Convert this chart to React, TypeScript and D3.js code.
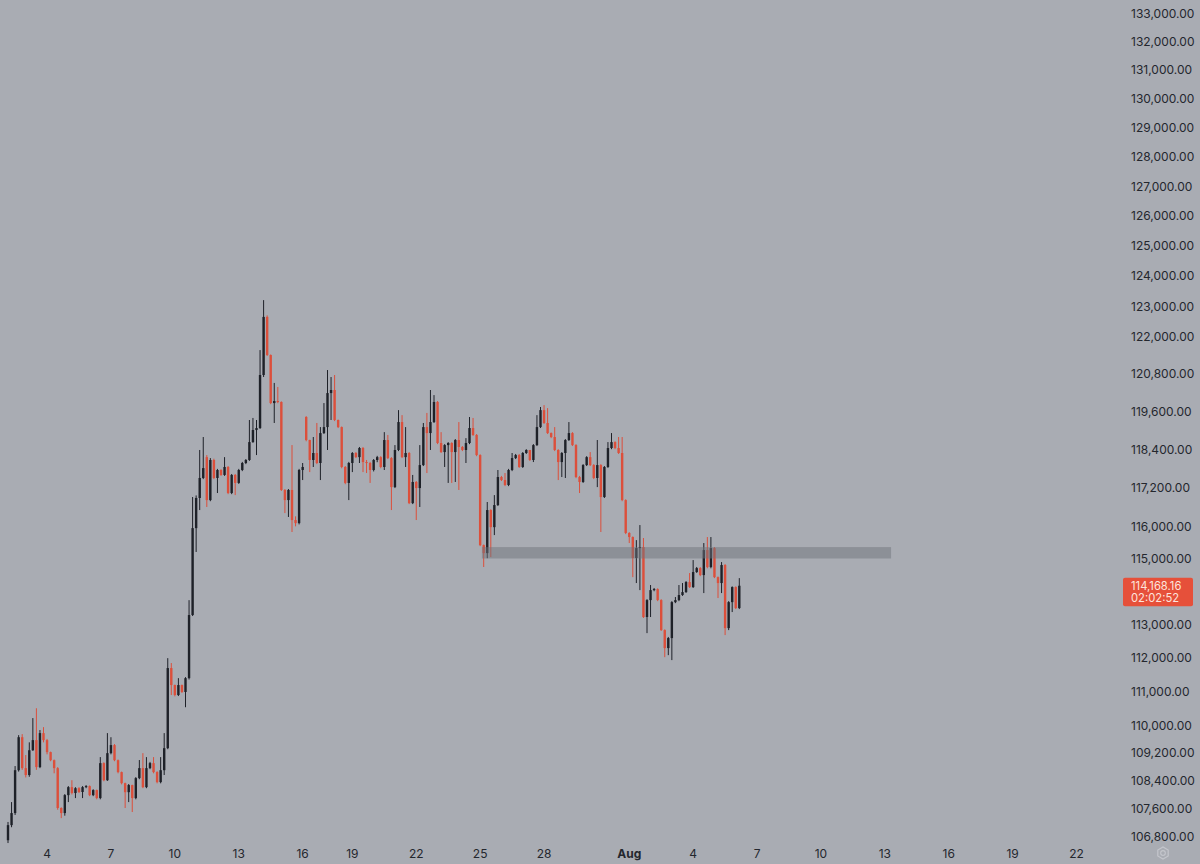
import React, { useEffect, useRef } from 'react';
import * as d3 from 'd3';

// 4h candles, first bar 2 Jul 04:00 UTC; the feed skips 4 bars after bar 83 (16 Jul)
const startTime = Date.UTC(2025, 6, 2, 4);
const barHours = 4;
const gapAfterBar = 83;
const gapBars = 4;

const opens = [
  106680, 107110, 107455, 108690, 109650, 108750, 108550, 109270, 109565, 108780,
  109770, 109565, 109215, 108980, 108750, 107600, 107455, 107970, 108200, 108030,
  108170, 108060, 108200, 108230, 107970, 108115, 107885, 108895, 108400, 109185,
  109420, 108980, 108635, 108315, 108055, 108260, 107885, 108460, 108750, 108200,
  108750, 108895, 108635, 108345, 108690, 109330, 111690, 111185, 110890, 111185,
  110980, 111390, 113280, 115935, 116870, 117495, 118150, 116805, 118060, 117495,
  117745, 117590, 117840, 117025, 117590, 117340, 117745, 117965, 118060, 118625,
  119007, 119070, 120765, 122650, 121410, 119865, 119930, 119900, 117120, 116805,
  117120, 116185, 116090, 117745, 119420, 118690, 118060, 118280, 117965, 118910,
  119100, 120185, 120283, 119325, 119100, 117840, 117340, 117965, 118280, 118150,
  118437, 117995, 117965, 117745, 118060, 118150, 117840, 118690, 118120, 117210,
  118375, 119260, 118150, 118280, 116710, 117370, 117180, 117900, 119100, 118910,
  119260, 119900, 118595, 118310, 118530, 118595, 118310, 118690, 118470, 118375,
  118595, 119070, 118850, 118215, 115410, 115165, 116495, 115965, 116650, 117525,
  117430, 117275, 117745, 118120, 118215, 117840, 118280, 118375, 118060, 118530,
  119100, 119640, 119230, 118910, 118785, 118375, 117995, 118280, 118690, 118910,
  118530, 117525, 117370, 117900, 118150, 117900, 117495, 117900, 116900, 117840,
  118437, 118625, 118437, 118280, 116805, 115785, 115660, 115015, 115320, 115350,
  113220, 113732, 114035, 114066, 113732, 112826, 112286, 112586, 113670, 113732,
  113885, 113975, 114280, 114127, 114585, 114706, 114493, 115259, 114737, 115320,
  114430, 114250, 114800, 112886, 113670, 114127, 113490,
];

const highs = [
  107200, 107770, 108810, 109710, 109740, 109130, 109500, 110210, 110500, 109860,
  109945, 109600, 109230, 109000, 108780, 107620, 108000, 108230, 108400, 108200,
  108200, 108230, 108260, 108250, 108140, 108130, 109070, 108920, 109770, 109650,
  109450, 109000, 108650, 108330, 108290, 108270, 108490, 108985, 109185, 109070,
  108930, 109070, 108660, 109070, 109770, 111985, 111840, 111200, 111390, 111200,
  111420, 113730, 116900, 116950, 118375, 118785, 118215, 118120, 118100, 117780,
  117770, 118150, 117870, 117620, 117620, 117780, 118000, 118090, 119325, 119390,
  119325, 121570, 123200, 122700, 121430, 120510, 120380, 119920, 117150, 117150,
  118530, 116300, 117780, 117965, 119450, 118700, 118785, 119230, 119100, 119865,
  120925, 120700, 120765, 119340, 119120, 117870, 118000, 118310, 118310, 118470,
  118470, 118060, 118000, 118090, 118190, 118180, 118940, 118850, 118150, 118530,
  119640, 119480, 119100, 118310, 117590, 117400, 118530, 119230, 119550, 120283,
  120120, 119930, 118940, 118560, 118625, 118620, 118720, 119260, 118500, 118750,
  119420, 119390, 118880, 118240, 115430, 116745, 116520, 116960, 117745, 117560,
  117650, 117780, 118280, 118250, 118250, 118310, 118400, 118375, 118560, 119480,
  119740, 119800, 119705, 118930, 119100, 118400, 118310, 118720, 119260, 118940,
  118560, 117560, 117930, 118180, 118310, 117930, 118690, 117930, 117870, 118625,
  118910, 118650, 118785, 118785, 116830, 115810, 115680, 115565, 116030, 115630,
  113760, 114190, 114100, 114090, 113760, 112850, 112620, 113700, 113825, 114190,
  114250, 114310, 114555, 114952, 114740, 114737, 115475, 115660, 115660, 115350,
  114450, 114890, 114830, 113700, 114150, 114150, 114400,
];

const lows = [
  106600, 107050, 107400, 108650, 108700, 108480, 108500, 109250, 108700, 108750,
  109500, 109150, 108950, 108600, 107550, 107310, 107380, 107770, 107990, 107885,
  108030, 107885, 108170, 107940, 107940, 107850, 107850, 108370, 108380, 109150,
  108950, 108600, 108280, 107600, 107770, 107485, 107850, 108430, 108170, 108170,
  108720, 108600, 108310, 108310, 108550, 109300, 110890, 110850, 110860, 110950,
  110530, 111350, 113250, 115200, 116495, 117460, 116590, 116770, 117460, 117025,
  117560, 117560, 116990, 116990, 116960, 117310, 117710, 117930, 118030, 118600,
  118215, 119040, 120700, 121380, 119830, 119230, 119860, 117090, 116400, 116280,
  115815, 115990, 116050, 117430, 118650, 117680, 117840, 117930, 117430, 118880,
  118375, 119325, 119290, 119070, 117800, 117300, 116805, 117680, 118120, 117965,
  117680, 117650, 117340, 117700, 117990, 117800, 117745, 118090, 116495, 117180,
  118340, 118120, 117840, 116680, 116680, 116185, 116590, 117870, 117650, 118375,
  119230, 118560, 118280, 117840, 117340, 117340, 117370, 117120, 118340, 117965,
  118560, 118820, 118180, 115380, 114740, 115010, 115045, 115720, 116620, 117400,
  117240, 117240, 117710, 118090, 117810, 117810, 118250, 118030, 117995, 118500,
  119070, 119200, 118880, 118750, 118340, 117430, 117525, 117495, 118660, 118500,
  117490, 117025, 117340, 117870, 117870, 117460, 117210, 115815, 116870, 117810,
  118400, 118400, 118250, 116770, 115750, 115475, 114430, 114250, 114035, 113190,
  112735, 113220, 114000, 113700, 112800, 112015, 112075, 111927, 113640, 113700,
  113860, 113950, 114100, 114100, 114560, 114460, 113945, 114700, 114700, 114400,
  113795, 113945, 112676, 112826, 113370, 113460, 113460,
];

const closes = [
  107110, 107455, 108690, 109650, 108750, 108550, 109270, 109565, 108780, 109770,
  109565, 109215, 108980, 108750, 107600, 107455, 107970, 108200, 108030, 108170,
  108060, 108200, 108230, 107970, 108115, 107885, 108895, 108400, 109185, 109420,
  108980, 108635, 108315, 108055, 108260, 107885, 108460, 108750, 108200, 108750,
  108895, 108635, 108345, 108690, 109330, 111690, 111185, 110890, 111185, 110980,
  111390, 113280, 115935, 116870, 117495, 117805, 116805, 118060, 117495, 117745,
  117590, 117840, 117025, 117590, 117340, 117745, 117965, 118060, 118625, 119007,
  119070, 120765, 122650, 121410, 119865, 119930, 119900, 117120, 116805, 117120,
  116185, 116090, 117745, 117840, 118690, 118060, 118280, 117965, 118910, 119100,
  120185, 120283, 119325, 119100, 117840, 117340, 117965, 118280, 118150, 118437,
  117995, 117965, 117745, 118060, 118150, 117840, 118690, 118120, 117210, 118375,
  119260, 118150, 118280, 116710, 117370, 117180, 117900, 119100, 118910, 119260,
  119900, 118595, 118310, 118530, 118595, 118310, 118690, 118470, 118375, 118595,
  119070, 118850, 118215, 115410, 115165, 116495, 115965, 116650, 117525, 117430,
  117275, 117745, 118120, 118215, 117840, 118280, 118375, 118060, 118530, 119100,
  119640, 119230, 118910, 118785, 118375, 117995, 118280, 118690, 118910, 118530,
  117525, 117370, 117900, 118150, 117900, 117495, 117900, 116900, 117840, 118437,
  118625, 118437, 118280, 116805, 115785, 115660, 115015, 115320, 115350, 113220,
  113732, 114035, 114066, 113732, 112826, 112286, 112586, 113670, 113732, 113885,
  113975, 114280, 114127, 114585, 114706, 114493, 115259, 114737, 115320, 114430,
  114250, 114800, 112886, 113670, 114127, 113490, 114168.16,
];

const priceTicks = [
  133000, 132000, 131000, 130000, 129000, 128000, 127000, 126000, 125000, 124000,
  123000, 122000, 120800, 119600, 118400, 117200, 116000, 115000, 113000, 112000,
  111000, 110000, 109200, 108400, 107600, 106800,
];

const tickDates = [
  '2025-07-04', '2025-07-07', '2025-07-10', '2025-07-13', '2025-07-16', '2025-07-19',
  '2025-07-22', '2025-07-25', '2025-07-28', '2025-08-01', '2025-08-04', '2025-08-07',
  '2025-08-10', '2025-08-13', '2025-08-16', '2025-08-19', '2025-08-22',
];
const tickLabels = ['4', '7', '10', '13', '16', '19', '22', '25', '28', 'Aug', '4', '7', '10', '13', '16', '19', '22'];

// drawn rectangle zone
const zoneLow = 115000;
const zoneHigh = 115350;
const zoneFrom = '2025-07-25T02:00:00Z';
const zoneTo = '2025-08-13T07:00:00Z';

const countdown = '02:02:52';

const barOf = (iso: string) => {
  const raw = (Date.parse(iso) - startTime) / (barHours * 3600e3);
  return raw > gapAfterBar ? raw - gapBars : raw;
};

const App: React.FC = () => {
  const svgRef = useRef<SVGSVGElement>(null);

  useEffect(() => {
    if (!svgRef.current) return;
    const svg = d3.select(svgRef.current);
    svg.selectAll('*').remove();

    const width = 1200;
    const height = 864;
    const bg = '#a9acb3';
    const upColor = '#1e2128';
    const downColor = '#dc4f3b';
    const textColor = '#24272e';
    const font = 'Inter, Roboto, "Noto Sans", sans-serif';

    const x = d3.scaleLinear().domain([0, 206]).range([8, 739.3]);
    const y = d3.scaleLog().domain([133000, 106800]).range([13, 836]);

    svg.append('rect').attr('width', width).attr('height', height).attr('fill', bg);

    const data = closes.map((c, i) => ({ i, o: opens[i], h: highs[i], l: lows[i], c }));
    const bodyW = 2.4;

    const g = svg.append('g');
    const candles = g.selectAll('g.candle').data(data).enter().append('g');
    candles.append('line')
      .attr('x1', d => x(d.i)).attr('x2', d => x(d.i))
      .attr('y1', d => y(d.h)).attr('y2', d => y(d.l))
      .attr('stroke', d => (d.c >= d.o ? upColor : downColor))
      .attr('stroke-width', 1);
    candles.append('rect')
      .attr('x', d => x(d.i) - bodyW / 2)
      .attr('width', bodyW)
      .attr('y', d => y(Math.max(d.o, d.c)))
      .attr('height', d => Math.max(1, y(Math.min(d.o, d.c)) - y(Math.max(d.o, d.c))))
      .attr('fill', d => (d.c >= d.o ? upColor : downColor));

    // zone
    const zx0 = x(barOf(zoneFrom));
    const zx1 = x(barOf(zoneTo));
    svg.append('rect')
      .attr('x', zx0).attr('width', zx1 - zx0)
      .attr('y', y(zoneHigh)).attr('height', y(zoneLow) - y(zoneHigh))
      .attr('fill', '#6f737b').attr('opacity', 0.5);

    // price axis
    const fmt = d3.format(',.2f');
    svg.append('g').selectAll('text').data(priceTicks).enter().append('text')
      .attr('x', 1131).attr('y', d => y(d))
      .attr('dominant-baseline', 'central')
      .attr('font-family', font).attr('font-size', 12)
      .attr('fill', textColor)
      .text(d => fmt(d));

    // last price label with bar countdown
    const last = closes[closes.length - 1];
    const ly = y(last);
    svg.append('rect')
      .attr('x', 1123).attr('y', ly - 8).attr('width', 70).attr('height', 28.5)
      .attr('rx', 2).attr('fill', '#e6503a');
    svg.append('text')
      .attr('x', 1131).attr('y', ly).attr('dominant-baseline', 'central')
      .attr('font-family', font).attr('font-size', 11.25).attr('fill', '#fde4dd')
      .text(fmt(last));
    svg.append('text')
      .attr('x', 1131).attr('y', ly + 12).attr('dominant-baseline', 'central')
      .attr('font-family', font).attr('font-size', 11.25).attr('fill', '#fde4dd')
      .text(countdown);

    // time axis
    svg.append('g').selectAll('text').data(tickDates).enter().append('text')
      .attr('x', d => x(barOf(d + 'T00:00:00Z')))
      .attr('y', 853)
      .attr('text-anchor', 'middle').attr('dominant-baseline', 'central')
      .attr('font-family', font).attr('font-size', 12)
      .attr('font-weight', (_d, i) => (tickLabels[i] === 'Aug' ? 700 : 400))
      .attr('fill', textColor)
      .text((_d, i) => tickLabels[i]);

    // settings gear
    const gear = svg.append('g').attr('transform', 'translate(1163,853)');
    const hex = d3.range(6).map(k => {
      const a = (Math.PI / 3) * k + Math.PI / 6;
      return [6 * Math.cos(a), 6 * Math.sin(a)] as [number, number];
    });
    gear.append('polygon').attr('points', hex.map(p => p.join(',')).join(' '))
      .attr('fill', 'none').attr('stroke', '#c4c6cc').attr('stroke-width', 1.2);
    gear.append('circle').attr('r', 2.3).attr('fill', 'none')
      .attr('stroke', '#c4c6cc').attr('stroke-width', 1.2);
  }, []);

  return (
    <svg ref={svgRef} width={1200} height={864}
      style={{ position: 'absolute', left: 0, top: 0, display: 'block' }} />
  );
};

export default App;
